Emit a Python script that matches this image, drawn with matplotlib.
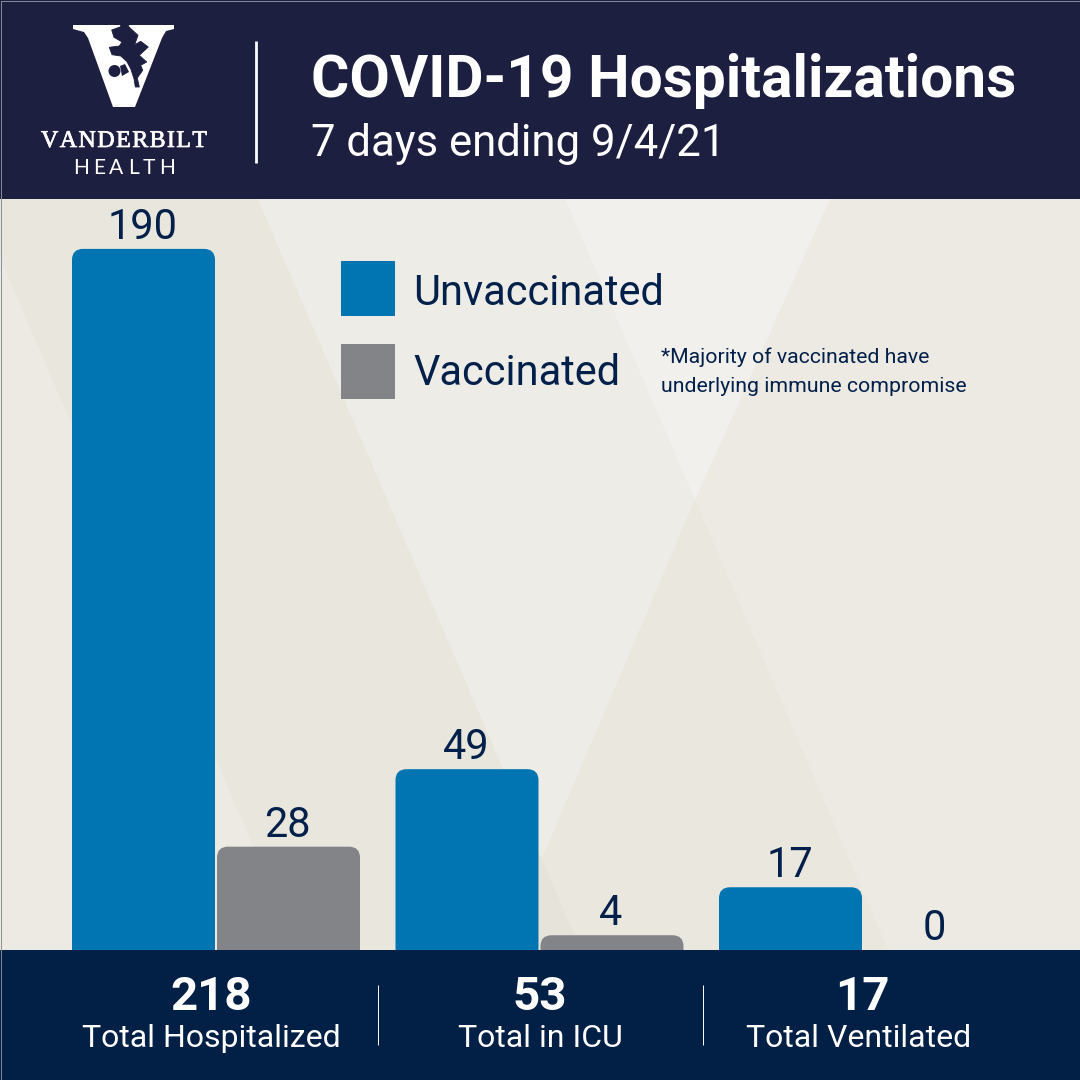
import matplotlib
matplotlib.use('Agg')
import matplotlib.pyplot as plt
import matplotlib.patheffects as pe
from matplotlib.patches import Polygon, Rectangle, Ellipse, PathPatch
from matplotlib.path import Path

plt.rcParams['font.family'] = ['Roboto', 'DejaVu Sans']

groups = ['Total Hospitalized', 'Total in ICU', 'Total Ventilated']
unvaccinated = [190, 49, 17]
vaccinated = [28, 4, 0]
totals = [218, 53, 17]
series_names = ['Unvaccinated', 'Vaccinated']
title = 'COVID-19 Hospitalizations'
subtitle = '7 days ending 9/4/21'
footnote = '*Majority of vaccinated have\nunderlying immune compromise'

BLUE = '#0075B1'
GRAY = '#838488'
INK = '#02204A'
HEAD = '#1C1F3F'
FOOT = '#022046'


def px(size):
    # font size given in pixels at dpi 100
    return size * 72 / 100


def rounded_bar(ax, x, w, h, rx, ry, color):
    if h <= 0:
        return
    verts = [(x, 0), (x, h - ry), (x, h), (x + rx, h), (x + w - rx, h),
             (x + w, h), (x + w, h - ry), (x + w, 0), (x, 0)]
    codes = [Path.MOVETO, Path.LINETO, Path.CURVE3, Path.CURVE3, Path.LINETO,
             Path.CURVE3, Path.CURVE3, Path.LINETO, Path.CLOSEPOLY]
    ax.add_patch(PathPatch(Path(verts, codes), facecolor=color, edgecolor='none', zorder=3))


def spaced(ax, s, x0, x1, y, **kw):
    # letter by letter, matplotlib has no tracking
    r = fig.canvas.get_renderer()
    ts = [ax.text(0, y, c, ha='left', va='baseline', **kw) for c in s]
    ws = [t.get_window_extent(r).width for t in ts]
    gap = (x1 - x0 - sum(ws)) / (len(s) - 1)
    x = x0
    for t, w in zip(ts, ws):
        t.set_x(x)
        x += w + gap
    return ts


fig = plt.figure(figsize=(10.8, 10.8), dpi=100, facecolor='#EDEAE4')

# page layer in pixel coordinates
bg = fig.add_axes([0, 0, 1, 1])
bg.set_xlim(0, 1080)
bg.set_ylim(1080, 0)
bg.axis('off')

bg.add_patch(Polygon([(0, 199), (258, 199), (581, 950), (298, 950), (0, 258)], fc='#E9E6DE', ec='none'))
bg.add_patch(Polygon([(258, 199), (565, 199), (695, 500), (503, 950), (581, 950)], fc='#EEECE6', ec='none'))
bg.add_patch(Polygon([(565, 199), (830, 199), (695, 500)], fc='#F1F0EC', ec='none'))
bg.add_patch(Polygon([(695, 500), (888, 950), (503, 950)], fc='#EAE7DF', ec='none'))
bg.add_patch(Polygon([(541, 857), (581, 950), (503, 950)], fc='#E6E4DA', ec='none'))

# chart layer
chart = fig.add_axes([0, 130 / 1080, 1, 751 / 1080])
chart.patch.set_alpha(0)
unit = 323.5
scale = 3.69
chart.set_xlim(-216 / unit, (1080 - 216) / unit)
chart.set_ylim(0, 751 / scale)
chart.axis('off')

bw = 143 / unit
shift = 72.5 / unit
for i in range(len(groups)):
    rounded_bar(chart, i - shift - bw / 2, bw, unvaccinated[i], 11 / unit, 11 / scale, BLUE)
    rounded_bar(chart, i + shift - bw / 2, bw, vaccinated[i], 11 / unit, 11 / scale, GRAY)
    for off, v in ((-shift, unvaccinated[i]), (shift, vaccinated[i])):
        chart.annotate(str(v), (i + off, v), xytext=(px(-1), px(10)), textcoords='offset points',
                       ha='center', va='baseline', fontsize=px(41.5), color=INK, zorder=4)

# top layer
top = fig.add_axes([0, 0, 1, 1])
top.patch.set_alpha(0)
top.set_xlim(0, 1080)
top.set_ylim(1080, 0)
top.axis('off')

top.add_patch(Rectangle((0, 0), 1080, 198.5, fc=HEAD, ec='none'))
top.add_patch(Rectangle((0, 950), 1080, 130, fc=FOOT, ec='none'))
top.add_patch(Rectangle((0.5, 0.5), 1079, 1079, fc='none', ec='#8a8d99', lw=0.7))

top.text(311, 97, title, fontsize=px(58.6), fontweight='bold', color='white', va='baseline')
top.text(311, 156, subtitle, fontsize=px(43.8), color='white', va='baseline')
top.plot([256, 256], [41, 163], color='white', lw=2, solid_capstyle='butt')

# logo
v_shape = [(73, 25), (174, 25), (174, 29), (166, 31), (162, 38), (135, 107), (113, 107),
           (88, 38), (84, 32), (73, 29)]
leaf = [(120.7, 22), (120.7, 26.7), (111.7, 30), (114, 37.3), (122, 42), (119.3, 46), (109.3, 47.3),
        (112, 54.7), (120.7, 56), (126.7, 61.3), (130.7, 68.7), (134, 78.7), (135.3, 87), (139.3, 87),
        (137.3, 78), (142.7, 70.3), (140.7, 65.3), (146.7, 62), (139.3, 55.3), (148.3, 47),
        (140.7, 41.3), (134.7, 44.7), (138, 35.3), (128.7, 26.7), (128.7, 22)]
top.add_patch(Polygon(v_shape, fc='white', ec='none'))
top.add_patch(Polygon(leaf, fc=HEAD, ec=HEAD, lw=0.6, joinstyle='round'))
top.add_patch(Ellipse((114.5, 71), 12, 12, fc=HEAD, ec='none'))
top.add_patch(Polygon([(120, 66), (125, 64), (129, 72), (122, 76)], fc=HEAD, ec='none'))
word = spaced(top, 'VANDERBILT', 41, 207, 147, fontsize=px(24), family='Liberation Serif',
              color='white')
for t in word:
    t.set_path_effects([pe.withStroke(linewidth=0.5, foreground='white')])
spaced(top, 'HEALTH', 73, 175, 174, fontsize=px(21), family='Lato', color='white')

# legend
for y0, color, name, yc in ((261, BLUE, series_names[0], 305), (344, GRAY, series_names[1], 385)):
    top.add_patch(Rectangle((341, y0), 53.5, 54.5, fc=color, ec='none'))
    top.text(413, yc, name, fontsize=px(41.5), color=INK, va='baseline')

top.text(661, 363, footnote.split('\n')[0], fontsize=px(21.3), color=INK, va='baseline')
top.text(661, 392, footnote.split('\n')[1], fontsize=px(21.3), color=INK, va='baseline')

# footer
centers = [211, 540, 859]
number_centers = [211, 540, 862]
for c, nc, n, name in zip(centers, number_centers, totals, groups):
    top.text(nc, 1010, str(n), fontsize=px(47.5), fontweight='bold', color='white', ha='center', va='baseline')
    top.text(c, 1047, name, fontsize=px(32), color='white', ha='center', va='baseline')
for x in (378, 703):
    top.plot([x, x], [985, 1045], color='white', lw=0.7, solid_capstyle='butt')

plt.savefig('out.png', dpi=100, facecolor=fig.get_facecolor())
